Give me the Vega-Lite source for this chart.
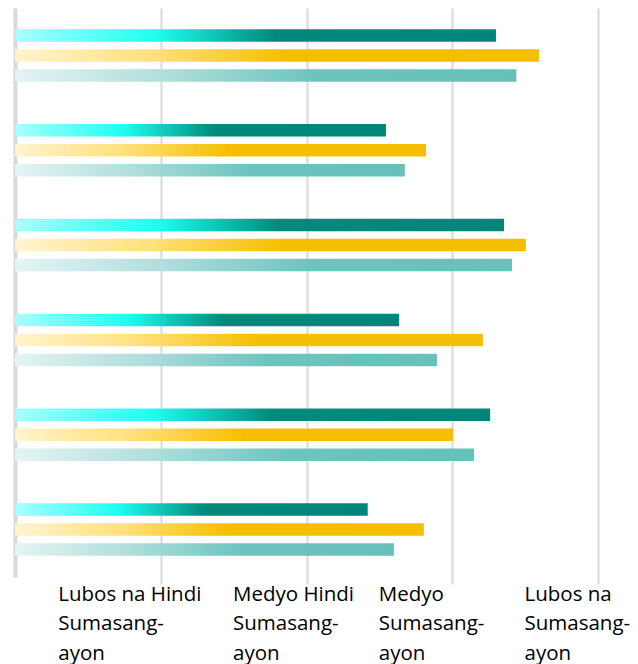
{
  "$schema": "https://vega.github.io/schema/vega-lite/v6.json",
  "width": 583,
  "height": 569,
  "padding": {"left": 15, "top": 8, "right": 0, "bottom": 0},
  "data": {
    "values": [
      {"group": "P1", "series": "A", "value": 3.30},
      {"group": "P1", "series": "B", "value": 3.595},
      {"group": "P1", "series": "C", "value": 3.44},
      {"group": "P2", "series": "A", "value": 2.545},
      {"group": "P2", "series": "B", "value": 2.82},
      {"group": "P2", "series": "C", "value": 2.675},
      {"group": "P3", "series": "A", "value": 3.355},
      {"group": "P3", "series": "B", "value": 3.505},
      {"group": "P3", "series": "C", "value": 3.41},
      {"group": "P4", "series": "A", "value": 2.635},
      {"group": "P4", "series": "B", "value": 3.21},
      {"group": "P4", "series": "C", "value": 2.895},
      {"group": "P5", "series": "A", "value": 3.26},
      {"group": "P5", "series": "B", "value": 3.005},
      {"group": "P5", "series": "C", "value": 3.15},
      {"group": "P6", "series": "A", "value": 2.42},
      {"group": "P6", "series": "B", "value": 2.805},
      {"group": "P6", "series": "C", "value": 2.60}
    ]
  },
  "encoding": {
    "y": {
      "field": "group",
      "type": "nominal",
      "sort": ["P1", "P2", "P3", "P4", "P5", "P6"],
      "scale": {"paddingInner": 0.447, "paddingOuter": 0.2235},
      "axis": {"labels": false, "ticks": false, "title": null, "domain": true, "domainColor": "#D9D9D9", "domainWidth": 4, "grid": false}
    },
    "yOffset": {
      "field": "series",
      "type": "nominal",
      "scale": {"domain": ["A", "B", "C"], "paddingInner": 0.375, "paddingOuter": 0}
    },
    "x": {
      "field": "value",
      "type": "quantitative",
      "scale": {"domain": [0, 4], "nice": false},
      "axis": {
        "values": [1, 2, 3, 4],
        "title": null,
        "domain": false,
        "grid": true,
        "gridColor": "#D9D9D9",
        "gridWidth": 2,
        "ticks": true,
        "tickColor": "#D9D9D9",
        "tickWidth": 2,
        "tickSize": 7,
        "labelExpr": "datum.value == 1 ? ['Lubos na Hindi', 'Sumasang-', 'ayon'] : datum.value == 2 ? ['Medyo Hindi', 'Sumasang-', 'ayon'] : datum.value == 3 ? ['Medyo', 'Sumasang-', 'ayon'] : ['Lubos na', 'Sumasang-', 'ayon']",
        "labelAlign": "left",
        "labelBaseline": "alphabetic",
        "labelPadding": 16,
        "labelLineHeight": 29.5,
        "labelFont": "Open Sans",
        "labelFontSize": 20.5,
        "labelColor": "#000000",
        "labelOverlap": false,
        "labelBound": false,
        "labelFlush": false,
        "labelOffset": {"condition": {"test": "datum.value == 1", "value": -103}, "value": -74}
      }
    }
  },
  "layer": [
    {
      "transform": [{"filter": "datum.series == 'A'"}],
      "mark": {
        "type": "bar",
        "fill": {
          "gradient": "linear", "x1": 0, "y1": 0, "x2": 1, "y2": 0,
          "stops": [
            {"offset": 0, "color": "#A8FFFF"},
            {"offset": 0.29, "color": "#1EFFF0"},
            {"offset": 0.54, "color": "#008A7C"},
            {"offset": 1, "color": "#00857A"}
          ]
        }
      }
    },
    {
      "transform": [{"filter": "datum.series == 'B'"}],
      "mark": {
        "type": "bar",
        "fill": {
          "gradient": "linear", "x1": 0, "y1": 0, "x2": 1, "y2": 0,
          "stops": [
            {"offset": 0, "color": "#FFF4CF"},
            {"offset": 0.27, "color": "#FFE07A"},
            {"offset": 0.52, "color": "#F5BF00"},
            {"offset": 1, "color": "#F5BE00"}
          ]
        }
      }
    },
    {
      "transform": [{"filter": "datum.series == 'C'"}],
      "mark": {
        "type": "bar",
        "fill": {
          "gradient": "linear", "x1": 0, "y1": 0, "x2": 1, "y2": 0,
          "stops": [
            {"offset": 0, "color": "#E4F4F4"},
            {"offset": 0.3, "color": "#B0DEDB"},
            {"offset": 0.6, "color": "#6CC4BE"},
            {"offset": 1, "color": "#66C1BB"}
          ]
        }
      }
    }
  ],
  "config": {
    "view": {"stroke": null},
    "background": "#FFFFFF"
  }
}
